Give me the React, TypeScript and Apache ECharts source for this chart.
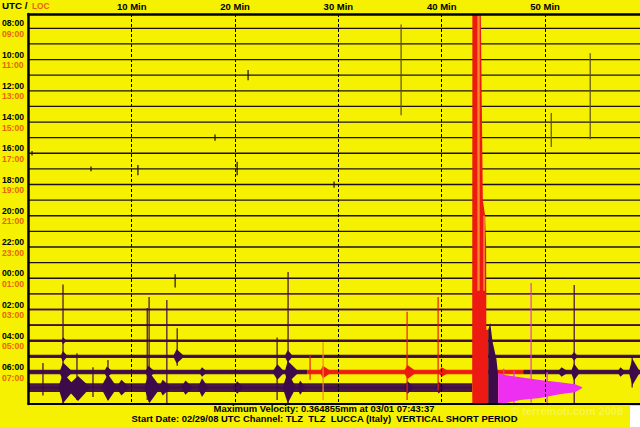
import React, { useEffect, useRef } from "react";
import * as echarts from "echarts";

// ---------- data read from the helicorder ----------
const utcLabels = ["08:00", "10:00", "12:00", "14:00", "16:00", "18:00", "20:00", "22:00", "00:00", "02:00", "04:00", "06:00"];
const locLabels = ["09:00", "11:00", "13:00", "15:00", "17:00", "19:00", "21:00", "23:00", "01:00", "03:00", "05:00", "07:00"];
const minuteTicks = [10, 20, 30, 40, 50];
const visibleMinutes = 59.19; // the 60-minute row is cut at the picture's right edge

// trace segments: [trace, startMin, endMin, noise half-amplitude (trace units), colour key]
const traceSegments: [number, number, number, number, string][] = [
  [0, 0, 60, 0, "k"], [1, 0, 60, 0, "k"], [2, 0, 60, 0, "k"], [3, 0, 60, 0, "k"],
  [4, 0, 60, 0, "k"], [5, 0, 60, 0, "k"], [6, 0, 60, 0, "k"], [7, 0, 60, 0, "k"],
  [8, 0, 60, 0, "k"], [9, 0, 60, 0, "k"], [10, 0, 60, 0, "k"], [11, 0, 60, 0, "k"],
  [12, 0, 60, 0, "k"], [13, 0, 60, 0, "k"], [14, 0, 60, 0, "k"], [15, 0, 60, 0, "k"],
  [16, 0, 60, 0, "k"],
  [17, 0, 60, 0.03, "p"],
  [18, 0, 60, 0.05, "p"],
  [19, 0, 60, 0.06, "p"],
  [20, 0, 60, 0.08, "p"],
  [21, 0, 60, 0.1, "p"],
  [22, 0, 27, 0.15, "p"], [22, 27, 47.9, 0.15, "r"], [22, 47.9, 60, 0.15, "p"],
  [23, 0, 42.95, 0.28, "p"],
];

// bursts: [trace, startMin, peakMin, endMin, up, down, colour key]
const bursts: [number, number, number, number, number, number, string][] = [
  [23, 2.9, 3.35, 4.6, 0.95, 1.0, "p"],
  [23, 3.6, 4.8, 6.0, 0.75, 0.85, "p"],
  [23, 7.0, 7.7, 8.6, 0.85, 0.85, "p"],
  [23, 8.5, 9.0, 9.8, 0.5, 0.5, "p"],
  [23, 11.2, 11.7, 12.8, 1.0, 1.0, "p"],
  [23, 12.6, 13.0, 13.8, 0.5, 0.5, "p"],
  [23, 14.8, 15.2, 15.9, 0.45, 0.45, "p"],
  [23, 16.4, 16.8, 17.4, 0.6, 0.6, "p"],
  [23, 19.8, 20.2, 20.8, 0.4, 0.4, "p"],
  [23, 24.6, 25.1, 25.9, 1.0, 1.0, "p"],
  [23, 26.0, 26.3, 26.8, 0.45, 0.45, "p"],
  [23, 36.3, 36.7, 37.3, 0.4, 0.4, "p"],
  [23, 39.4, 39.7, 40.3, 0.38, 0.38, "p"],
  [22, 3.0, 3.35, 4.3, 0.6, 0.6, "p"],
  [22, 7.3, 7.6, 8.2, 0.35, 0.35, "p"],
  [22, 11.3, 11.6, 12.3, 0.4, 0.4, "p"],
  [22, 16.5, 16.8, 17.3, 0.3, 0.3, "p"],
  [22, 23.6, 24.1, 24.8, 0.5, 0.5, "p"],
  [22, 24.8, 25.1, 26.2, 0.7, 0.7, "p"],
  [22, 28.2, 28.5, 29.4, 0.4, 0.4, "r"],
  [22, 36.3, 36.7, 37.6, 0.45, 0.45, "r"],
  [22, 39.6, 40.0, 40.8, 0.3, 0.3, "r"],
  [22, 51.2, 51.6, 52.3, 0.3, 0.3, "p"],
  [22, 52.5, 52.8, 53.4, 0.55, 0.55, "p"],
  [22, 57.0, 57.3, 57.8, 0.3, 0.3, "p"],
  [22, 58.1, 58.45, 59.2, 0.85, 0.85, "p"],
  [21, 14.0, 14.35, 15.1, 0.45, 0.45, "p"],
  [21, 24.8, 25.1, 25.6, 0.4, 0.4, "p"],
  [21, 3.1, 3.35, 3.8, 0.35, 0.35, "p"],
  [21, 52.5, 52.8, 53.2, 0.28, 0.28, "p"],
  [20, 3.2, 3.35, 3.7, 0.22, 0.22, "p"],
];

// spikes: [trace, minute, up, down, colour key]
const spikes: [number, number, number, number, string][] = [
  [23, 3.35, 6.6, 1.1, "p"],
  [23, 1.41, 1.57, 0.5, "p"],
  [23, 4.7, 2.2, 0.8, "p"],
  [23, 6.25, 1.3, 0.6, "p"],
  [23, 7.7, 1.76, 0.8, "p"],
  [23, 11.5, 5.1, 0.8, "p"],
  [23, 11.68, 5.8, 0.9, "p"],
  [23, 13.4, 5.6, 1.1, "p"],
  [21, 14.4, 1.8, 0.6, "p"],
  [16, 14.2, 0.25, 0.6, "k"],
  [23, 24.07, 3.2, 0.8, "p"],
  [23, 25.13, 7.4, 1.1, "p"],
  [22, 27.26, 1.1, 0.5, "r"],
  [22, 28.52, 1.9, 1.8, "o"],
  [22, 36.65, 3.85, 1.8, "r"],
  [22, 39.65, 4.8, 1.2, "r"],
  [5, 36.07, 5.24, 0.56, "g"],
  [6, 54.37, 4.4, 1.1, "g"],
  [7, 50.6, 1.57, 0.6, "g"],
  [3, 21.26, 0.33, 0.33, "k"],
  [7, 18.06, 0.2, 0.2, "k"],
  [9, 10.6, 0.25, 0.4, "k"],
  [9, 20.2, 0.45, 0.4, "k"],
  [10, 29.58, 0.2, 0.2, "k"],
  [9, 6.06, 0.15, 0.15, "k"],
  [8, 0.35, 0.15, 0.15, "k"],
  [23, 48.65, 6.7, 0.95, "m"],
  [23, 50.2, 1.0, 1.1, "m"],
  [23, 46.0, 1.2, 1.1, "m"],
  [23, 47.0, 1.1, 1.0, "m"],
  [22, 52.82, 5.57, 2.0, "p"],
  [22, 58.43, 1.0, 1.0, "p"],
];

// earthquake on the 07:00 trace: [minute, up, down]
const quakeTrace = 23;
const quakeRed: [number, number, number][] = [
  [42.95, 0, 0], [42.97, 26, 1.3], [43.75, 26, 1.3], [43.98, 12, 1.3], [44.2, 11, 1.3],
  [44.3, 9.1, 1.3], [44.32, 3.7, 1.3], [44.5, 3.7, 1.3], [44.5, 0, 0],
];
const quakePurple: [number, number, number][] = [
  [44.5, 0, 0], [44.5, 3.7, 1.3], [44.7, 4.13, 1.3], [44.9, 3.0, 1.3], [45.3, 1.8, 1.3],
  [45.46, 0.8, 1.3], [45.46, 0, 0],
];
const quakeMagenta: [number, number, number][] = [
  [45.46, 0, 0], [45.46, 0.93, 1.05], [46.1, 0.8, 1.0], [47.6, 0.67, 0.8], [49.5, 0.48, 0.67],
  [51.4, 0.35, 0.42], [52.9, 0.22, 0.29], [53.6, 0.03, 0.03],
];
// orange strips inside the red column: [startMin, endMin, upTop, upBottom]
const quakeOrange: [number, number, number, number][] = [
  [43.45, 43.68, 26, 6.2],
  [44.02, 44.18, 11, 6.2],
];

const titleMax = "Maximum Velocity: 0.364855mm at 03/01 07:43:37";
const titleInfo = "Start Date: 02/29/08 UTC Channel: TLZ  TLZ  LUCCA (Italy)  VERTICAL SHORT PERIOD";

// ---------- styles ----------
const palette: Record<string, string> = {
  k: "#1e1010",
  p: "#3d0a4a",
  r: "#ec1a12",
  o: "#f28a2a",
  m: "#ee2ef0",
  g: "#5e5014",
};
const yellow = "#f5f100";
const orangeText = "#e8650e";
const font = '"Liberation Sans", Arial, Helvetica, sans-serif';

export default function App() {
  const ref = useRef<HTMLDivElement>(null);

  useEffect(() => {
    if (!ref.current) return;
    const chart = echarts.init(ref.current, null, { renderer: "svg" });

    const envelope = (api: any, pts: [number, number, number][], fill: string) => {
      const upper = pts.map((p) => api.coord([p[0], quakeTrace - p[1]]));
      const lower = pts.slice().reverse().map((p) => api.coord([p[0], quakeTrace + p[2]]));
      return { type: "polygon", shape: { points: upper.concat(lower) }, style: { fill } };
    };

    const option: any = {
      animation: false,
      backgroundColor: yellow,
      grid: { left: 28.4, top: 14, right: 0, height: 390, show: false },
      xAxis: [
        {
          type: "value", min: 0, max: visibleMinutes, interval: 10, position: "top", z: 10,
          axisLine: { show: true, onZero: false, lineStyle: { color: "#000", width: 2.6 } },
          axisTick: { show: false },
          axisLabel: {
            formatter: (v: number) => (minuteTicks.includes(v) ? `${v} Min` : ""),
            fontWeight: "bold", fontSize: 9.5, fontFamily: font, color: "#000", margin: 3,
            showMaxLabel: false,
          },
          splitLine: { show: true, lineStyle: { color: "#000", type: [3, 2], width: 1 } },
        },
        {
          type: "value", min: 0, max: visibleMinutes, position: "bottom", z: 10,
          axisLine: { show: true, onZero: false, lineStyle: { color: "#000", width: 2 } },
          axisTick: { show: false }, axisLabel: { show: false }, splitLine: { show: false },
        },
      ],
      yAxis: {
        type: "value", inverse: true, min: -0.915, max: 24.05, z: 10,
        axisLine: { show: true, onZero: false, lineStyle: { color: "#000", width: 2.5 } },
        axisTick: { show: false }, axisLabel: { show: false }, splitLine: { show: false },
      },
      series: [
        {
          type: "custom", name: "traces", clip: true,
          data: traceSegments.map((d) => [d[1], d[0]]),
          renderItem: (params: any, api: any) => {
            const [row, s, e, amp, ck] = traceSegments[params.dataIndex];
            const a = api.coord([s, row]);
            const b = api.coord([e, row]);
            const color = palette[ck];
            const children: any[] = [];
            if (amp > 0) {
              const top = api.coord([s, row - amp])[1];
              const bot = api.coord([s, row + amp])[1];
              children.push({ type: "rect", shape: { x: a[0], y: top, width: b[0] - a[0], height: bot - top }, style: { fill: color, opacity: 0.95 } });
            }
            children.push({ type: "line", shape: { x1: a[0], y1: a[1], x2: b[0], y2: b[1] }, style: { stroke: color, lineWidth: 1.3 } });
            return { type: "group", children };
          },
        },
        {
          type: "custom", name: "bursts", clip: true,
          data: bursts.map((d) => [d[2], d[0]]),
          renderItem: (params: any, api: any) => {
            const [row, s, pk, e, up, dn, ck] = bursts[params.dataIndex];
            const pts = [
              api.coord([s, row]), api.coord([pk, row - up]), api.coord([e, row]), api.coord([pk, row + dn]),
            ];
            return { type: "polygon", shape: { points: pts }, style: { fill: palette[ck] } };
          },
        },
        {
          type: "custom", name: "spikes", clip: true,
          data: spikes.map((d) => [d[1], d[0]]),
          renderItem: (params: any, api: any) => {
            const [row, m, up, dn, ck] = spikes[params.dataIndex];
            const a = api.coord([m, row - up]);
            const b = api.coord([m, row + dn]);
            return { type: "line", shape: { x1: a[0], y1: a[1], x2: b[0], y2: b[1] }, style: { stroke: palette[ck], lineWidth: 1.2 } };
          },
        },
        {
          type: "custom", name: "quake", clip: true,
          data: [[44, quakeTrace]],
          renderItem: (params: any, api: any) => {
            const children: any[] = [
              envelope(api, quakeRed, palette.r),
              envelope(api, quakePurple, palette.p),
              envelope(api, quakeMagenta, palette.m),
            ];
            quakeOrange.forEach((o) => {
              const a = api.coord([o[0], quakeTrace - o[2]]);
              const b = api.coord([o[1], quakeTrace - o[3]]);
              children.push({ type: "rect", shape: { x: a[0], y: a[1], width: b[0] - a[0], height: b[1] - a[1] }, style: { fill: palette.o } });
            });
            return { type: "group", children };
          },
        },
        {
          type: "custom", name: "hourLabels", clip: false,
          data: utcLabels.map((_, i) => [0, i * 2]),
          renderItem: (params: any, api: any) => {
            const i = params.dataIndex;
            const yc = api.coord([0, i * 2])[1];
            return {
              type: "group",
              children: [
                { type: "text", x: 2, y: yc - 5, scaleX: 0.88, style: { text: utcLabels[i], fill: "#000", font: `bold 9.8px ${font}`, textAlign: "left", textVerticalAlign: "middle" } },
                { type: "text", x: 2, y: yc + 5.4, scaleX: 0.88, style: { text: locLabels[i], fill: orangeText, font: `bold 9.8px ${font}`, textAlign: "left", textVerticalAlign: "middle" } },
              ],
            };
          },
        },
      ],
      graphic: [
        { type: "text", x: 2, y: 5.5, style: { text: "UTC /", fill: "#000", font: `bold 9.8px ${font}`, textAlign: "left", textVerticalAlign: "middle" } },
        { type: "text", x: 32, y: 5.5, scaleX: 0.85, style: { text: "LOC", fill: orangeText, font: `bold 9.8px ${font}`, textAlign: "left", textVerticalAlign: "middle" } },
        { type: "text", x: 324, y: 409.6, scaleX: 1.07, style: { text: titleMax, fill: "#000", font: `bold 8.8px ${font}`, textAlign: "center", textVerticalAlign: "middle" } },
        { type: "text", x: 324.5, y: 419.2, scaleX: 1.07, style: { text: titleInfo, fill: "#000", font: `bold 8.8px ${font}`, textAlign: "center", textVerticalAlign: "middle" } },
        { type: "text", x: 567, y: 410.5, style: { text: "© terremoti.com 2008", fill: "rgba(255,255,255,0.3)", font: `bold 11px ${font}`, textAlign: "center", textVerticalAlign: "middle" } },
        { type: "rect", x: 630, y: 406, shape: { width: 10, height: 21 }, style: { fill: "#ffffff" } },
      ],
    };

    chart.setOption(option);
    return () => chart.dispose();
  }, []);

  return <div ref={ref} style={{ position: "absolute", left: 0, top: 0, width: 640, height: 427 }} />;
}
